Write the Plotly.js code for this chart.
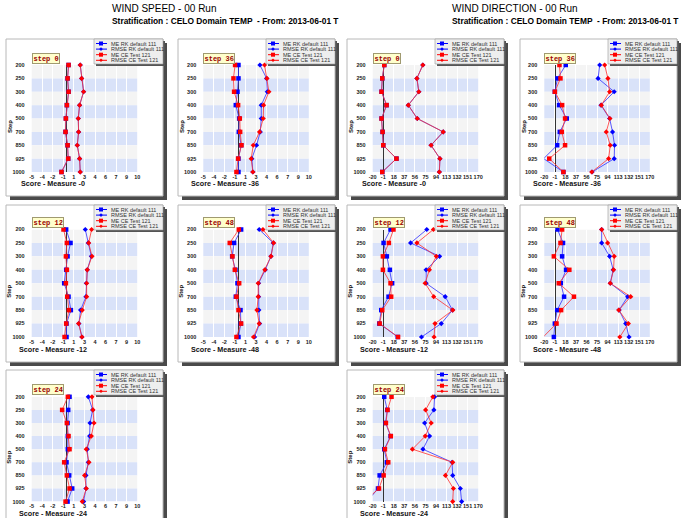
<!DOCTYPE html>
<html><head><meta charset="utf-8">
<script src="https://cdn.plot.ly/plotly-3.0.1.min.js"></script>
<style>html,body{margin:0;padding:0;background:#fff;}#chart{width:681px;height:518px;}</style>
</head><body><div id="chart"></div>
<script>
// ---------- data ----------
const levels = ['200','250','300','400','500','700','850','925','1000'];
const seriesNames = ['ME RK default 111','RMSE RK default 111','ME CE Test 121','RMSE CE Test 121'];
const speedTickVals = [-5,-3.5,-2,-0.5,1,2.5,4,5.5,7,8.5,10];
const speedTickText = ['-5','-4','-2','-1','1','3','4','6','7','9','10'];
const dirTickVals = [-20,-1,18,37,56,75,94,113,132,151,170];
const dirTickText = ['-20','-1','18','37','56','75','94','113','132','151','170'];
const blockTitles = ['WIND SPEED - 00 Run','WIND DIRECTION - 00 Run'];
const subTitle = 'Stratification : CELO Domain TEMP  - From: 2013-06-01 T';

// WIND SPEED
const ws0_meRK   = [0.24,0.1,0.24,0.0,-0.14,-0.19,0.1,0.19,-0.76];
const ws0_rmseRK = [1.9,2.1,2.38,1.81,1.62,1.67,1.48,1.81,1.9];
const ws0_meCE   = [0.24,0.1,0.24,0.0,-0.14,-0.19,0.1,0.19,-0.76];
const ws0_rmseCE = [1.9,2.1,2.38,1.81,1.62,1.67,1.48,1.81,1.9];

const ws12_meRK   = [-0.1,0.52,0.1,-0.1,-0.38,0.24,0.57,-0.05,-0.05];
const ws12_rmseRK = [2.62,3.05,3.48,2.9,2.76,2.71,1.95,1.71,2.14];
const ws12_meCE   = [-0.48,0,-0.14,0,-0.14,0.05,0.29,-0.1,-0.33];
const ws12_rmseCE = [3.52,3.1,3.57,2.9,2.81,2.81,2.19,1.67,2.14];

const ws24_meRK   = [0.38,0.19,0.1,0.14,0.14,-0.05,0.33,0.76,0.1];
const ws24_rmseRK = [3.05,3.67,3.29,3.24,2.9,3.05,2.71,2.71,2.38];
const ws24_meCE   = [0.14,-0.67,0,0.24,0.38,-0.38,0,0.38,-0.19];
const ws24_rmseCE = [3.57,3.71,3.86,3.48,2.76,3.14,2.52,2.76,2.19];

const ws36_meRK   = [0,0,-0.14,-0.38,0.1,0.05,0.38,0,0];
const ws36_rmseRK = [3.05,4.0,4.1,3.24,3.24,3.1,2.57,1.9,2.05];
const ws36_meCE   = [-0.48,-0.71,-0.62,-0.05,0.19,0.24,0.43,-0.05,-0.29];
const ws36_rmseCE = [3.71,4.05,4.33,3.57,3.52,3.0,2.1,1.81,2.05];

const ws48_meRK   = [0.38,-0.62,-0.9,-0.43,-0.14,-0.38,0.29,0.33,0];
const ws48_rmseRK = [2.95,4.95,4.62,3.81,2.86,2.86,2.9,3.0,2.29];
const ws48_meCE   = [0.05,-1.24,-0.86,-0.52,0.1,-0.29,0,0.38,-0.29];
const ws48_rmseCE = [3.48,5.0,4.62,3.76,2.81,2.81,2.62,2.95,2.14];

// WIND DIRECTION
const wd0_meRK   = [0.8,-2.8,-4,5,-4,-2.2,-1,22.8,-2.8];
const wd0_rmseRK = [70.3,59.6,63.1,44.1,60.2,107,85.1,101.1,100];
const wd0_meCE   = [0.8,-2.8,-4,5,-4,-2.2,-1,22.8,-2.8];
const wd0_rmseCE = [70.3,59.6,63.1,44.1,60.2,107,85.1,101.1,100];

const wd12_meRK   = [12.1,-0.4,5.5,10.9,15,8.5,-4.6,-8.1,25.1];
const wd12_rmseRK = [77.4,48.3,100.5,76.2,76.2,110.6,123.7,103.5,67.9];
const wd12_meCE   = [17.4,9.1,-1.6,-1.6,12.1,13.3,-2.8,-7.5,25.7];
const wd12_rmseCE = [89.3,59.6,94.6,82.1,74.4,89.9,124.3,92.2,90.5];

const wd24_meRK   = [0.8,6.2,3.2,12.2,0.8,5.5,-7.5,-10.5,-30];
const wd24_rmseRK = [91.4,90.2,73.5,82.4,70.5,122.9,124.1,137.8,140.2];
const wd24_meCE   = [13.9,6.7,3.8,12.7,2.0,8,-0.3,-8.7,-36];
const wd24_rmseCE = [88.4,75.3,85.4,74.7,51.5,124.1,111,125.3,124.1];

const wd36_meRK   = [18.6,3.8,-1,6.7,20.4,7.9,3.2,-21.2,14.4];
const wd36_rmseRK = [79.8,76.8,105.9,82.1,97.6,102.9,106.5,105.9,66.1];
const wd36_meCE   = [7.3,9.1,-1,12.1,17.4,11.5,17.4,-11.1,14.4];
const wd36_rmseCE = [88.7,94.6,97.6,82.7,98.2,91.6,98.8,95.8,65.5];

const wd48_meRK   = [3.8,13.8,12.1,19.2,9.7,15.6,3.2,-1,-2.8];
const wd48_rmseRK = [83.3,83.3,97.6,104.1,98.8,130.2,114.7,126.7,132.6];
const wd48_meCE   = [12.1,9.1,-2.8,25.1,6.1,33.4,10.3,2,-22];
const wd48_rmseCE = [83.3,94,105.9,104.7,98.8,135.6,114.1,131.4,116];

// ---------- layout helpers ----------
const W = 681, H = 518;
const fx = p => p / W, fy = p => 1 - p / H;
const frameLeft = [6,178,347,520], frameTop = [39,205,370], frameW = 157, frameH = 157;
const plotLeft = [31.7,203.3,372.7,544.3], plotTop = [65,229.5,396.8], plotW = 105.5, plotHs = [107,107.5,104.8];
const titleGap = [12,12.5,12];
const SANS = 'Liberation Sans, Arial, sans-serif';
const colors = ['#0000ff','#0000ff','#ff0000','#ff0000'];
const lineColors = ['#3030ff','#3030ff','#ff3030','#ff3030'];
const symbols = ['square','diamond','square','diamond'];
const msizes = [4.5,4,4.5,4];

const panels = [
  {col:0,row:0,step:'0', kind:'ws', data:[ws0_meRK,ws0_rmseRK,ws0_meCE,ws0_rmseCE]},
  {col:0,row:1,step:'12',kind:'ws', data:[ws12_meRK,ws12_rmseRK,ws12_meCE,ws12_rmseCE]},
  {col:0,row:2,step:'24',kind:'ws', data:[ws24_meRK,ws24_rmseRK,ws24_meCE,ws24_rmseCE]},
  {col:1,row:0,step:'36',kind:'ws', data:[ws36_meRK,ws36_rmseRK,ws36_meCE,ws36_rmseCE]},
  {col:1,row:1,step:'48',kind:'ws', data:[ws48_meRK,ws48_rmseRK,ws48_meCE,ws48_rmseCE]},
  {col:2,row:0,step:'0', kind:'wd', data:[wd0_meRK,wd0_rmseRK,wd0_meCE,wd0_rmseCE]},
  {col:2,row:1,step:'12',kind:'wd', data:[wd12_meRK,wd12_rmseRK,wd12_meCE,wd12_rmseCE]},
  {col:2,row:2,step:'24',kind:'wd', data:[wd24_meRK,wd24_rmseRK,wd24_meCE,wd24_rmseCE]},
  {col:3,row:0,step:'36',kind:'wd', data:[wd36_meRK,wd36_rmseRK,wd36_meCE,wd36_rmseCE]},
  {col:3,row:1,step:'48',kind:'wd', data:[wd48_meRK,wd48_rmseRK,wd48_meCE,wd48_rmseCE]}
];

const traces = [], shapes = [], annotations = [];
const layout = {
  width: W, height: H, margin: {l:0,r:0,t:0,b:0},
  paper_bgcolor: '#ffffff', plot_bgcolor: 'rgba(0,0,0,0)', showlegend: false,
  font: {family: SANS, color: '#222'}
};
const levelIdx = levels.map((_, k) => k);

panels.forEach((p, i) => {
  const n = i + 1;
  const xa = n === 1 ? 'x' : 'x' + n, ya = n === 1 ? 'y' : 'y' + n;
  const pl = plotLeft[p.col], pt = plotTop[p.row], plotH = plotHs[p.row];
  const fl = frameLeft[p.col], ft = frameTop[p.row], fr = fl + frameW;
  const ws = p.kind === 'ws';

  // frame + shadow
  shapes.push({type:'rect', xref:'paper', yref:'paper', layer:'below',
    x0:fx(fl+4), x1:fx(fr+4), y0:fy(ft+4), y1:fy(ft+frameH+4), fillcolor:'#4a4a4a', line:{width:0}});
  shapes.push({type:'rect', xref:'paper', yref:'paper', layer:'below',
    x0:fx(fl), x1:fx(fr), y0:fy(ft), y1:fy(ft+frameH), fillcolor:'#ffffff', line:{color:'#b8b8b8', width:1}});

  layout[n === 1 ? 'xaxis' : 'xaxis' + n] = {
    domain:[fx(pl), fx(pl+plotW)], anchor: ya, range: ws ? [-5,10] : [-20,170],
    tickmode:'array', tickvals: ws ? speedTickVals : dirTickVals, ticktext: ws ? speedTickText : dirTickText,
    tickangle:0,
    tickfont:{family:SANS, size:5.5, color:'#222', weight:'bold'}, ticks:'', ticklabelstandoff:0,
    showgrid:true, gridcolor:'#ffffff', gridwidth:1,
    zeroline:true, zerolinecolor:'#333333', zerolinewidth:1.1, showline:false, fixedrange:true
  };
  layout[n === 1 ? 'yaxis' : 'yaxis' + n] = {
    domain:[fy(pt+plotH), fy(pt)], anchor: xa, range:[8,0],
    tickmode:'array', tickvals: levelIdx, ticktext: levels, tickangle:0,
    tickfont:{family:SANS, size:5.5, color:'#222', weight:'bold'}, ticks:'', ticklabelstandoff:6,
    showgrid:false, zeroline:false, showline:false, fixedrange:true
  };

  // bands
  for (let k = 0; k < levels.length - 1; k++) {
    shapes.push({type:'rect', xref: xa + ' domain', yref: ya, layer:'below',
      x0:0, x1:1, y0:k, y1:k+1, fillcolor: k % 2 === 0 ? '#f4f4f4' : '#d9e2f9', line:{width:0}});
  }

  // data traces
  p.data.forEach((vals, s) => {
    traces.push({
      type:'scatter', mode:'lines+markers', name: seriesNames[s], xaxis: xa, yaxis: ya,
      x: vals, y: levelIdx, cliponaxis:false,
      line:{color: lineColors[s], width:0.8},
      marker:{symbol: symbols[s], size: msizes[s], color: colors[s]},
      hoverinfo:'skip'
    });
  });

  // step label
  annotations.push({xref:'paper', yref:'paper', x:fx(pl), y:fy(pt-1.5), xanchor:'left', yanchor:'bottom',
    text:'step ' + p.step, showarrow:false,
    font:{family:'Liberation Mono, DejaVu Sans Mono, monospace', size:7, color:'#990000', weight:'bold'},
    bgcolor:'#ffffcc', bordercolor:'#a09a70', borderwidth:1, borderpad:0.5});

  // axis titles
  annotations.push({xref:'paper', yref:'paper', x:fx(fl+47), y:fy(pt+plotH+titleGap[p.row]), xanchor:'center', yanchor:'middle',
    text:'Score - Measure -' + p.step, showarrow:false, font:{family:SANS, size:7.2, color:'#111', weight:'bold'}});
  annotations.push({xref:'paper', yref:'paper', x:fx(fl+3.5), y:fy(pt+plotH/2+8), xanchor:'center', yanchor:'middle',
    text:'Step', textangle:-90, showarrow:false, font:{family:SANS, size:6, color:'#111', weight:'bold'}});

  // legend box
  const lw = 69, lh = 25;
  shapes.push({type:'rect', xref:'paper', yref:'paper', layer:'above',
    x0:fx(fr-lw+2), x1:fx(fr+2), y0:fy(ft+2), y1:fy(ft+lh+2), fillcolor:'#555555', line:{width:0}});
  shapes.push({type:'rect', xref:'paper', yref:'paper', layer:'above',
    x0:fx(fr-lw), x1:fx(fr), y0:fy(ft), y1:fy(ft+lh), fillcolor:'#eeeeee', line:{color:'#999999', width:0.6}});
  seriesNames.forEach((nm, s) => {
    const yk = ft + 4.5 + 5.6 * s;
    const cx = fr - 62;
    shapes.push({type:'line', xref:'paper', yref:'paper', layer:'above',
      x0:fx(fr-67), x1:fx(fr-56), y0:fy(yk), y1:fy(yk), line:{color:colors[s], width:1}});
    if (symbols[s] === 'square') {
      shapes.push({type:'rect', xref:'paper', yref:'paper', layer:'above',
        x0:fx(cx-2), x1:fx(cx+2), y0:fy(yk-2), y1:fy(yk+2), fillcolor:colors[s], line:{width:0}});
    } else {
      const d = 1.8;
      shapes.push({type:'path', xref:'paper', yref:'paper', layer:'above',
        path:`M ${fx(cx)} ${fy(yk-d)} L ${fx(cx+d)} ${fy(yk)} L ${fx(cx)} ${fy(yk+d)} L ${fx(cx-d)} ${fy(yk)} Z`,
        fillcolor:colors[s], line:{width:0}});
    }
    annotations.push({xref:'paper', yref:'paper', x:fx(fr-54), y:fy(yk), xanchor:'left', yanchor:'middle',
      text:nm, showarrow:false, font:{family:SANS, size:5.5, color:'#333'}});
  });
});

// block titles
[110, 450].forEach((x, b) => {
  annotations.push({xref:'paper', yref:'paper', x:fx(x), y:fy(8.5), xanchor:'left', yanchor:'middle',
    text: blockTitles[b], showarrow:false, font:{family:SANS, size:10, color:'#000'}});
  annotations.push({xref:'paper', yref:'paper', x:fx(x), y:fy(21), xanchor:'left', yanchor:'middle',
    text: subTitle, showarrow:false, font:{family:SANS, size:8.4, color:'#000', weight:'bold'}});
});

layout.shapes = shapes;
layout.annotations = annotations;
Plotly.newPlot('chart', traces, layout, {staticPlot:true, displayModeBar:false});
</script>
</body></html>
